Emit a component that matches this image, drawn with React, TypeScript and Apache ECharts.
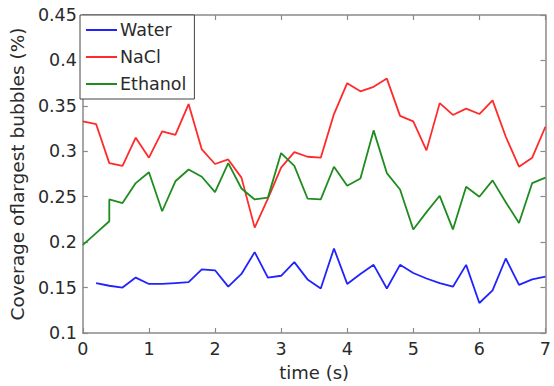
import React, { useEffect, useRef } from "react";
import * as echarts from "echarts";

const times = [0, 0.2, 0.4, 0.6, 0.8, 1.0, 1.2, 1.4, 1.6, 1.8, 2.0, 2.2, 2.4, 2.6, 2.8, 3.0, 3.2, 3.4, 3.6, 3.8, 4.0, 4.2, 4.4, 4.6, 4.8, 5.0, 5.2, 5.4, 5.6, 5.8, 6.0, 6.2, 6.4, 6.6, 6.8, 7.0];

const waterTimes = times.slice(1);
const waterValues = [0.155, 0.152, 0.150, 0.161, 0.154, 0.154, 0.155, 0.156, 0.170, 0.169, 0.151, 0.165, 0.189, 0.161, 0.163, 0.178, 0.159, 0.149, 0.193, 0.154, 0.165, 0.175, 0.149, 0.175, 0.166, 0.160, 0.155, 0.151, 0.175, 0.133, 0.147, 0.182, 0.153, 0.159, 0.162];

const naclValues = [0.333, 0.330, 0.287, 0.284, 0.315, 0.293, 0.322, 0.318, 0.352, 0.302, 0.286, 0.291, 0.271, 0.216, 0.248, 0.282, 0.299, 0.294, 0.293, 0.341, 0.375, 0.366, 0.371, 0.380, 0.339, 0.333, 0.301, 0.353, 0.340, 0.347, 0.341, 0.356, 0.316, 0.283, 0.293, 0.327];

const ethanolTimes = [0, 0.2, 0.4, 0.4, 0.6, 0.8, 1.0, 1.2, 1.4, 1.6, 1.8, 2.0, 2.2, 2.4, 2.6, 2.8, 3.0, 3.2, 3.4, 3.6, 3.8, 4.0, 4.2, 4.4, 4.6, 4.8, 5.0, 5.2, 5.4, 5.6, 5.8, 6.0, 6.2, 6.4, 6.6, 6.8, 7.0];
const ethanolValues = [0.197, 0.210, 0.223, 0.247, 0.243, 0.265, 0.277, 0.234, 0.267, 0.280, 0.272, 0.255, 0.287, 0.259, 0.247, 0.249, 0.298, 0.284, 0.248, 0.247, 0.283, 0.262, 0.270, 0.323, 0.276, 0.258, 0.214, 0.233, 0.251, 0.214, 0.261, 0.250, 0.268, 0.244, 0.221, 0.265, 0.271];

const xTicks = [0, 1, 2, 3, 4, 5, 6, 7];
const yTicks = [0.1, 0.15, 0.2, 0.25, 0.3, 0.35, 0.4, 0.45];

const FONT = "DejaVu Sans";
const FRAME = "#8a8a8a";
const TEXT = "#2a2a2a";

function pairs(xs: number[], ys: number[]) {
  return ys.map((y, i) => [xs[i], y]);
}

export default function App() {
  const ref = useRef<HTMLDivElement>(null);
  useEffect(() => {
    if (!ref.current) return;
    const chart = echarts.init(ref.current, null, { renderer: "svg" });
    const axisBase = {
      axisLine: { show: true, onZero: false, lineStyle: { color: FRAME, width: 1.5 } },
      axisTick: { show: true, inside: true, length: 5, lineStyle: { color: FRAME, width: 1.2 } },
      splitLine: { show: false },
    };
    const tickStyle = { color: TEXT, fontSize: 17.5, fontFamily: FONT };
    chart.setOption({
      animation: false,
      backgroundColor: "#fff",
      textStyle: { fontFamily: FONT },
      grid: { left: 80, right: 5, top: 15, bottom: 50, containLabel: false },
      legend: {
        orient: "vertical",
        left: 80,
        top: 15,
        padding: [5, 8, 5, 6],
        itemGap: 7,
        itemWidth: 31,
        itemHeight: 2,
        icon: "rect",
        borderColor: "#444",
        borderWidth: 1,
        borderRadius: 0,
        backgroundColor: "#fff",
        textStyle: { fontSize: 17.5, lineHeight: 20, color: TEXT, fontFamily: FONT, padding: [0, 0, 0, -2] },
        data: ["Water", "NaCl", "Ethanol"],
      },
      xAxis: [
        {
          type: "value",
          min: 0,
          max: 7,
          interval: 1,
          position: "bottom",
          name: "time (s)",
          nameLocation: "middle",
          nameGap: 30,
          nameTextStyle: { color: TEXT, fontSize: 18, fontFamily: FONT },
          axisLabel: { ...tickStyle, margin: 7, formatter: (v: number) => (xTicks.includes(v) ? String(v) : "") },
          ...axisBase,
        },
        {
          type: "value",
          min: 0,
          max: 7,
          interval: 1,
          position: "top",
          axisLabel: { show: false },
          ...axisBase,
        },
      ],
      yAxis: [
        {
          type: "value",
          min: 0.1,
          max: 0.45,
          interval: 0.05,
          position: "left",
          name: "Coverage oflargest bubbles (%)",
          nameLocation: "middle",
          nameGap: 54,
          nameTextStyle: { color: TEXT, fontSize: 18.5, fontFamily: FONT },
          axisLabel: {
            ...tickStyle,
            margin: 6,
            formatter: (v: number) => {
              const t = yTicks.find((y) => Math.abs(y - v) < 1e-6);
              return t === undefined ? "" : String(t);
            },
          },
          ...axisBase,
        },
        {
          type: "value",
          min: 0.1,
          max: 0.45,
          interval: 0.05,
          position: "right",
          axisLabel: { show: false },
          ...axisBase,
        },
      ],
      series: [
        {
          name: "Water",
          type: "line",
          data: pairs(waterTimes, waterValues),
          symbol: "none",
          lineStyle: { color: "#2222ff", width: 1.8 },
          itemStyle: { color: "#2222ff" },
        },
        {
          name: "NaCl",
          type: "line",
          data: pairs(times, naclValues),
          symbol: "none",
          lineStyle: { color: "#ff2a2a", width: 1.8 },
          itemStyle: { color: "#ff2a2a" },
        },
        {
          name: "Ethanol",
          type: "line",
          data: pairs(ethanolTimes, ethanolValues),
          symbol: "none",
          lineStyle: { color: "#1e8c1e", width: 1.8 },
          itemStyle: { color: "#1e8c1e" },
        },
      ],
    });
    return () => chart.dispose();
  }, []);
  return <div ref={ref} style={{ width: 554, height: 386, position: "absolute", left: 0, top: 0 }} />;
}
